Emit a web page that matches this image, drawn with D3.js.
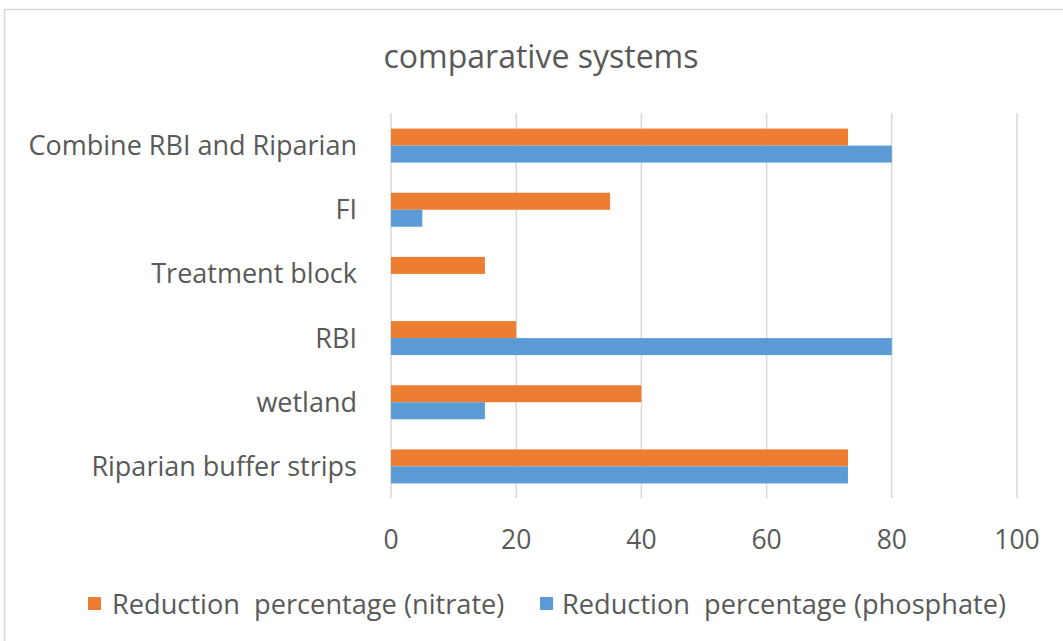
<!DOCTYPE html>
<html><head><meta charset="utf-8">
<script src="https://cdn.jsdelivr.net/npm/d3@7/dist/d3.min.js"></script>
<style>body{margin:0;background:#fff}svg{display:block}text{font-family:"Open Sans","Noto Sans",sans-serif;fill:#595959}</style>
</head><body><svg id="c" width="1063" height="641"></svg>
<script>
const categories = ["Combine RBI and Riparian", "FI", "Treatment block", "RBI", "wetland", "Riparian buffer strips"];
const nitrate = [73, 35, 15, 20, 40, 73];
const phosphate = [80, 5, 0, 80, 15, 73];
const seriesNames = ["Reduction  percentage (nitrate)", "Reduction  percentage (phosphate)"];
const colors = ["#ED7D31", "#5B9BD5"];
const xTicks = [0, 20, 40, 60, 80, 100];

const svg = d3.select("#c");
svg.append("rect").attr("x",4.5).attr("y",9.5).attr("width",1070).attr("height",640)
  .attr("fill","#fff").attr("stroke","#d9d9d9").attr("stroke-width",1.5);

const x = d3.scaleLinear().domain([0,100]).range([391,1017]);
const y = d3.scaleBand().domain(categories).range([113.5,498.5]).paddingInner(0.47).paddingOuter(0.235);
const sub = d3.scaleBand().domain([0,1]).range([0,y.bandwidth()]);

svg.append("g").selectAll("line").data(xTicks).join("line")
  .attr("x1",d=>x(d)).attr("x2",d=>x(d)).attr("y1",113).attr("y2",498)
  .attr("stroke","#d9d9d9").attr("stroke-width",1.5);

const series = [nitrate, phosphate];
series.forEach((vals,i)=>{
  svg.append("g").selectAll("rect").data(categories).join("rect")
    .attr("x",x(0)).attr("y",(c)=>y(c)+sub(i))
    .attr("width",(c,j)=>x(vals[j])-x(0)).attr("height",sub.bandwidth())
    .attr("fill",colors[i]);
});

svg.append("g").selectAll("text").data(categories).join("text")
  .attr("x",357).attr("y",c=>y(c)+y.bandwidth()/2).attr("dy","0.35em")
  .attr("text-anchor","end").attr("font-size",27).text(d=>d);

svg.append("g").selectAll("text").data(xTicks).join("text")
  .attr("x",d=>x(d)).attr("y",540).attr("dy","0.35em")
  .attr("text-anchor","middle").attr("font-size",26.5).text(d=>d);

svg.append("text").attr("x",541).attr("y",57).attr("dy","0.35em")
  .attr("text-anchor","middle").attr("font-size",32).text("comparative systems");

const leg = [{x:88,tx:112},{x:540,tx:562}];
leg.forEach((l,i)=>{
  svg.append("rect").attr("x",l.x).attr("y",597).attr("width",13).attr("height",13).attr("fill",colors[i]);
  svg.append("text").attr("x",l.tx).attr("y",604).attr("dy","0.35em").attr("font-size",27.2)
    .style("white-space","pre").text(seriesNames[i]);
});
</script></body></html>
